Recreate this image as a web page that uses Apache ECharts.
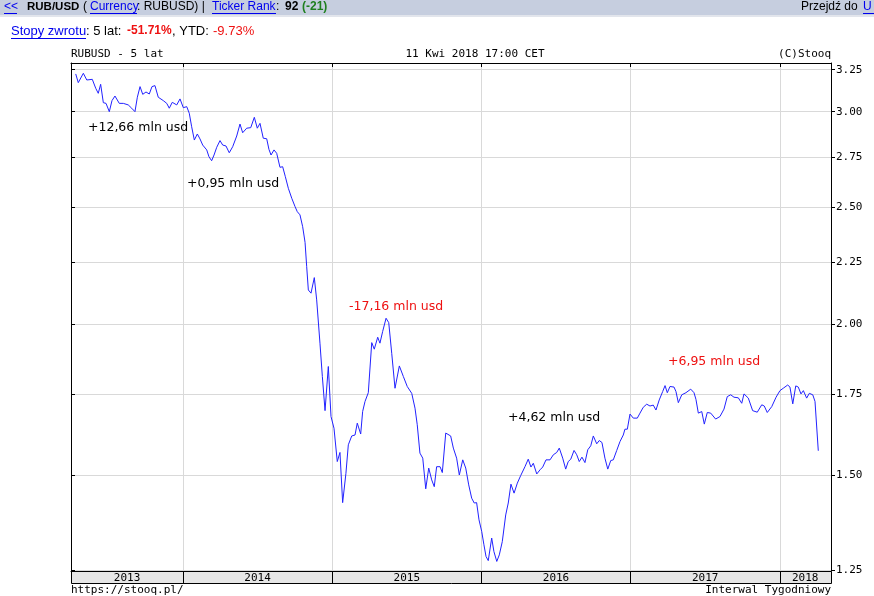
<!DOCTYPE html>
<html><head><meta charset="utf-8">
<script src="https://cdn.jsdelivr.net/npm/echarts@6/dist/echarts.min.js"></script>
<style>html,body{margin:0;padding:0;background:#fff}#c{width:874px;height:596px}</style>
</head><body><div id="c"></div>
<script>
// weekly points, x as decimal year
const weeks = [
2013.281,2013.298,2013.332,2013.355,2013.392,2013.415,2013.432,2013.448,2013.466,2013.484,
2013.506,2013.524,2013.544,2013.573,2013.600,2013.633,2013.656,2013.678,2013.694,2013.712,
2013.730,2013.752,2013.774,2013.792,2013.812,2013.834,2013.868,2013.891,2013.908,2013.928,
2013.958,2013.980,2014.002,2014.025,2014.042,2014.058,2014.076,2014.096,2014.114,2014.132,
2014.159,2014.174,2014.192,2014.208,2014.226,2014.248,2014.266,2014.288,2014.310,2014.333,
2014.360,2014.382,2014.400,2014.427,2014.454,2014.478,2014.498,2014.516,2014.538,2014.561,
2014.576,2014.590,2014.610,2014.628,2014.650,2014.668,2014.686,2014.706,2014.729,2014.751,
2014.766,2014.784,2014.802,2014.818,2014.829,2014.840,2014.858,2014.880,2014.896,2014.918,
2014.934,2014.952,2014.974,2014.992,2015.012,2015.034,2015.052,2015.070,2015.092,2015.108,
2015.131,2015.153,2015.168,2015.191,2015.204,2015.220,2015.242,2015.265,2015.282,2015.305,
2015.320,2015.338,2015.361,2015.379,2015.399,2015.421,2015.450,2015.477,2015.503,2015.533,
2015.555,2015.570,2015.588,2015.607,2015.627,2015.647,2015.667,2015.684,2015.700,2015.723,
2015.738,2015.761,2015.794,2015.812,2015.834,2015.852,2015.875,2015.895,2015.915,2015.935,
2015.952,2015.968,2015.984,2016.002,2016.017,2016.031,2016.046,2016.069,2016.084,2016.103,
2016.120,2016.140,2016.163,2016.180,2016.198,2016.219,2016.241,2016.263,2016.292,2016.314,
2016.332,2016.348,2016.371,2016.393,2016.411,2016.433,2016.460,2016.482,2016.505,2016.522,
2016.545,2016.565,2016.582,2016.599,2016.621,2016.639,2016.656,2016.674,2016.694,2016.713,
2016.733,2016.750,2016.773,2016.790,2016.808,2016.828,2016.847,2016.867,2016.884,2016.907,
2016.929,2016.951,2016.962,2016.978,2016.996,2017.018,2017.045,2017.063,2017.085,2017.108,
2017.130,2017.152,2017.170,2017.192,2017.215,2017.231,2017.246,2017.264,2017.291,2017.304,
2017.320,2017.343,2017.371,2017.403,2017.425,2017.438,2017.454,2017.477,2017.494,2017.514,
2017.537,2017.570,2017.599,2017.626,2017.648,2017.671,2017.693,2017.722,2017.745,2017.760,
2017.789,2017.818,2017.849,2017.879,2017.896,2017.916,2017.946,2017.975,2018.001,2018.023,
2018.035,2018.053,2018.068,2018.087,2018.107,2018.124,2018.142,2018.158,2018.180,2018.198,
2018.221,2018.236,2018.258
];
const rubusd = [
3.224,3.171,3.228,3.187,3.191,3.137,3.107,3.161,3.052,3.048,
3.000,3.064,3.091,3.048,3.048,3.039,3.020,3.000,3.084,3.147,
3.101,3.115,3.103,3.147,3.153,3.084,3.064,3.048,3.020,3.054,
3.039,3.074,3.023,3.029,2.991,2.915,2.842,2.875,2.848,2.815,
2.789,2.753,2.732,2.762,2.803,2.839,2.815,2.810,2.774,2.806,
2.864,2.930,2.882,2.907,2.910,2.968,2.907,2.934,2.852,2.849,
2.792,2.762,2.789,2.771,2.698,2.701,2.650,2.592,2.543,2.503,
2.479,2.464,2.409,2.338,2.232,2.135,2.122,2.186,2.095,1.929,
1.810,1.696,1.845,1.677,1.640,1.539,1.566,1.423,1.505,1.589,
1.616,1.619,1.656,1.622,1.693,1.726,1.755,1.931,1.907,1.951,
1.929,1.972,2.023,2.006,1.892,1.770,1.847,1.810,1.776,1.753,
1.704,1.651,1.564,1.549,1.461,1.520,1.486,1.467,1.524,1.524,
1.507,1.625,1.616,1.579,1.549,1.500,1.544,1.520,1.472,1.435,
1.422,1.423,1.377,1.347,1.313,1.284,1.274,1.330,1.296,1.272,
1.288,1.321,1.390,1.422,1.474,1.449,1.477,1.498,1.524,1.546,
1.523,1.534,1.503,1.515,1.523,1.544,1.544,1.559,1.566,1.579,
1.549,1.517,1.539,1.546,1.572,1.559,1.539,1.552,1.536,1.574,
1.586,1.616,1.592,1.602,1.596,1.549,1.517,1.542,1.544,1.572,
1.599,1.619,1.637,1.637,1.685,1.672,1.672,1.688,1.707,1.717,
1.711,1.714,1.698,1.731,1.759,1.779,1.755,1.776,1.774,1.759,
1.722,1.748,1.755,1.767,1.755,1.733,1.688,1.693,1.653,1.690,
1.688,1.669,1.677,1.701,1.742,1.748,1.740,1.738,1.720,1.751,
1.737,1.696,1.691,1.715,1.711,1.690,1.709,1.740,1.762,1.770,
1.768,1.781,1.774,1.718,1.778,1.774,1.751,1.762,1.737,1.753,
1.748,1.726,1.571
];
const yTicks = [1.25, 1.5, 1.75, 2.0, 2.25, 2.5, 2.75, 3.0, 3.25];
const yearBounds = [2014, 2015, 2016, 2017, 2018];
const yearLabelPos = [2013.625, 2014.5, 2015.5, 2016.5, 2017.5, 2018.17];
const yearLabels = ['2013', '2014', '2015', '2016', '2017', '2018'];
const annoTexts = ['+12,66 mln usd', '+0,95 mln usd', '-17,16 mln usd', '+4,62 mln usd', '+6,95 mln usd'];

const X_MIN = 2013.2493, X_MAX = 2018.3432, Y_MIN = 1.249, Y_MAX = 3.292;
const MONO = '"DejaVu Sans Mono", monospace';
const SANS = '"Liberation Sans", Arial, sans-serif';
const ANNO = '"DejaVu Sans", sans-serif';
const BLUE = '#0000ee', RED = '#ee1111';

function txt(x, y, text, opt) {
  opt = opt || {};
  const align = opt.align || 'left';
  return {type: 'text', x: x, y: y, silent: true, z: 100,
    style: {text: text, fill: opt.fill || '#000', fontSize: opt.size || 12,
      fontFamily: opt.family || SANS, fontWeight: opt.weight || 'normal',
      align: align, verticalAlign: 'middle', textAlign: align, textVerticalAlign: 'middle'}};
}
function uline(x1, x2, y, color) {
  return {type: 'line', silent: true, z: 100, shape: {x1: x1, y1: y + 0.5, x2: x2, y2: y + 0.5},
    style: {stroke: color, lineWidth: 1}};
}

const chart = echarts.init(document.getElementById('c'));
const gridColor = '#d9d9d9';

chart.setOption({
  animation: false,
  backgroundColor: '#fff',
  grid: {left: 71, top: 63, width: 760, height: 508, containLabel: false},
  xAxis: [{
    type: 'value', position: 'bottom', min: X_MIN, max: X_MAX,
    axisLine: {show: true, onZero: false, lineStyle: {color: '#000'}},
    axisTick: {show: true, inside: false, length: 12, customValues: yearBounds, lineStyle: {color: '#000'}},
    axisLabel: {show: true, customValues: yearLabelPos, margin: 2, color: '#000',
      fontFamily: MONO, fontSize: 11,
      formatter: function (v) { const i = yearLabelPos.findIndex(p => Math.abs(p - v) < 1e-6); return i >= 0 ? yearLabels[i] : ''; }},
    splitLine: {show: true, lineStyle: {color: gridColor, width: 1}}
  }, {
    type: 'value', position: 'top', min: X_MIN, max: X_MAX,
    axisLine: {show: true, onZero: false, lineStyle: {color: '#000'}},
    axisTick: {show: true, inside: true, length: 4, customValues: yearBounds, lineStyle: {color: '#000'}},
    axisLabel: {show: false}, splitLine: {show: false}
  }],
  yAxis: [{
    type: 'log', position: 'right', min: Y_MIN, max: Y_MAX, logBase: 10,
    axisLine: {show: true, onZero: false, lineStyle: {color: '#000'}},
    axisTick: {show: true, inside: false, length: 4, customValues: yTicks, lineStyle: {color: '#000'}},
    axisLabel: {show: true, customValues: yTicks, margin: 5, color: '#000', fontFamily: MONO, fontSize: 11,
      formatter: function (v) { return Number(v).toFixed(2); }},
    splitLine: {show: true, lineStyle: {color: gridColor, width: 1}},
    minorTick: {show: false}, minorSplitLine: {show: false}
  }, {
    type: 'log', position: 'left', min: Y_MIN, max: Y_MAX, logBase: 10,
    axisLine: {show: true, onZero: false, lineStyle: {color: '#000'}},
    axisTick: {show: true, inside: true, length: 4, customValues: yTicks, lineStyle: {color: '#000'}},
    axisLabel: {show: false}, splitLine: {show: false}
  }],
  series: [{
    type: 'line', xAxisIndex: 0, yAxisIndex: 0, showSymbol: false, symbol: 'none',
    lineStyle: {color: '#2222ff', width: 1}, z: 5,
    data: weeks.map((t, i) => [t, rubusd[i]])
  }],
  graphic: [
    {type: 'rect', silent: true, z: -10, shape: {x: 0, y: 0, width: 874, height: 15}, style: {fill: '#c6cedf'}},
    {type: 'rect', silent: true, z: -10, shape: {x: 0, y: 15, width: 874, height: 2}, style: {fill: '#e2e5ec'}},
    {type: 'rect', silent: true, z: -10, shape: {x: 71.5, y: 571.5, width: 760, height: 12}, style: {fill: '#e6e6e6', stroke: '#000', lineWidth: 1}},
    txt(4, 7, '<<', {fill: BLUE}), uline(4, 17, 13, BLUE),
    txt(27, 7, 'RUB/USD', {weight: 'bold', size: 11.5}),
    txt(83, 7, '('), txt(90, 7, 'Currency', {fill: BLUE}), uline(90, 137, 13, BLUE),
    txt(137, 7, ': RUBUSD) | '),
    txt(212, 7, 'Ticker Rank', {fill: BLUE}), uline(212, 276, 13, BLUE),
    txt(276, 7, ': '), txt(285, 7, '92', {weight: 'bold'}), txt(302, 7, '(-21)', {weight: 'bold', fill: '#1f7f1f'}),
    txt(861, 7, 'Przejdź do ', {align: 'right'}), txt(863, 7, 'U', {fill: BLUE}), uline(863, 874, 13, BLUE),
    txt(11, 31, 'Stopy zwrotu', {fill: BLUE, size: 13}), uline(11, 86, 38, BLUE),
    txt(86, 31, ': 5 lat: ', {size: 13}),
    txt(127, 31, '-51.71%', {size: 12, weight: 'bold', fill: RED}),
    txt(172, 31, ', YTD: ', {size: 13}),
    txt(213, 31, '-9.73%', {size: 13, fill: RED}),
    txt(71, 54, 'RUBUSD - 5 lat', {family: MONO, size: 11}),
    txt(475, 54, '11 Kwi 2018 17:00 CET', {family: MONO, size: 11, align: 'center'}),
    txt(831, 54, '(C)Stooq', {family: MONO, size: 11, align: 'right'}),
    txt(71, 590, 'https://stooq.pl/', {family: MONO, size: 11}),
    txt(831, 590, 'Interwal Tygodniowy', {family: MONO, size: 11, align: 'right'}),
    txt(88, 128, annoTexts[0], {family: ANNO, size: 12.5}),
    txt(187, 184, annoTexts[1], {family: ANNO, size: 12.5}),
    txt(349, 307, annoTexts[2], {family: ANNO, size: 12.5, fill: RED}),
    txt(508, 418, annoTexts[3], {family: ANNO, size: 12.5}),
    txt(668, 362, annoTexts[4], {family: ANNO, size: 12.5, fill: RED})
  ]
});
</script></body></html>
